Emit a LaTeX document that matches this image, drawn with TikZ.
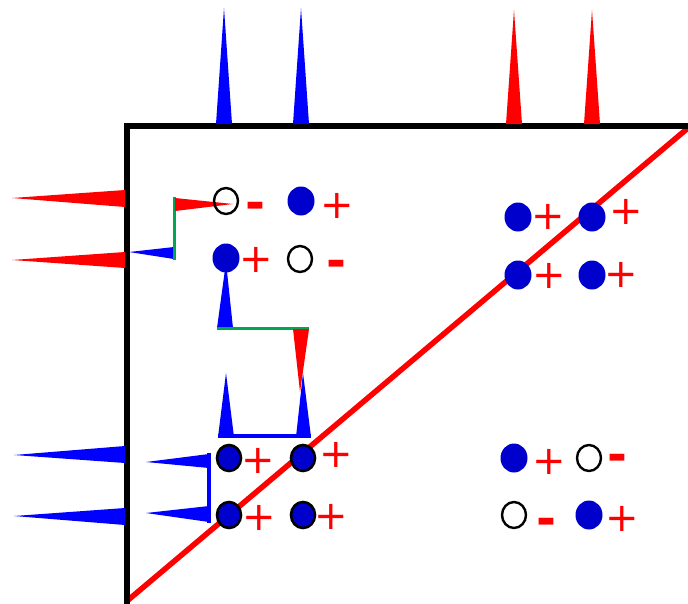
\documentclass[tikz,border=0pt]{standalone}
\usepackage{fontspec}
\usetikzlibrary{shapes.geometric}
\newfontfamily\signfont{DejaVu Sans}
\definecolor{spikeblue}{RGB}{0,0,255}
\definecolor{dotblue}{RGB}{0,0,204}
\definecolor{linkgreen}{RGB}{0,166,81}
\definecolor{signred}{RGB}{255,0,0}

\begin{document}
\begin{tikzpicture}[x=1pt,y=-1pt,
  hole/.style={ellipse,draw=black,line width=2.4pt,minimum width=24pt,minimum height=26pt,inner sep=0pt},
  bluedot/.style={ellipse,fill=dotblue,minimum width=27pt,minimum height=29pt,inner sep=0pt},
  rimdot/.style={ellipse,fill=dotblue,draw=black,line width=2.6pt,minimum width=24pt,minimum height=26pt,inner sep=0pt},
  plussign/.style={text=signred,inner sep=0pt,font=\signfont\fontsize{40}{40}\selectfont},
  minussign/.style={text=signred,inner sep=0pt,yshift=-7pt,font=\signfont\bfseries\fontsize{48}{48}\selectfont},
  bluespike/.style={fill=spikeblue},
  redspike/.style={fill=signred},
  link/.style={draw=linkgreen,line width=3pt},
]
\useasboundingbox (0,0) rectangle (688,603);
\clip (0,0) rectangle (688,603);

% diagonal
\draw[signred,line width=5.5pt] (127,601) -- (688,128);

% outer frame (right and bottom edges lie outside)
\draw[black,line width=5.5pt] (127,620) -- (127,126) -- (700,126);

% spikes on the top edge
\fill[bluespike] (224,8) -- (232,124) -- (216,124) -- cycle;
\fill[bluespike] (301,8) -- (309,124) -- (293,124) -- cycle;
\fill[redspike] (514,10) -- (522,124) -- (506,124) -- cycle;
\fill[redspike] (592,10) -- (600,124) -- (584,124) -- cycle;

% spikes on the left edge
\fill[redspike] (12,198) -- (125,190) -- (125,207) -- cycle;
\fill[redspike] (12,260) -- (125,252) -- (125,268) -- cycle;
\fill[bluespike] (14,455) -- (125,446) -- (125,463) -- cycle;
\fill[bluespike] (14,516) -- (125,508) -- (125,525) -- cycle;

% upper-left cluster links
\fill[bluespike] (129,252) -- (174,247) -- (174,259) -- cycle;
\draw[link] (174,197) -- (174,260);
\fill[redspike] (175,198) -- (233,204) -- (175,211) -- cycle;

\fill[bluespike] (226,262) -- (233,328) -- (217,328) -- cycle;
\draw[link] (217,328) -- (309,328);
\fill[redspike] (293,329) -- (309,329) -- (300,392) -- cycle;

\fill[bluespike] (226,373) -- (234,437) -- (218,437) -- cycle;
\fill[bluespike] (303,373) -- (311,437) -- (296,437) -- cycle;
\draw[spikeblue,line width=3.5pt] (218,436) -- (311,436);

% lower-left bracket
\draw[spikeblue,line width=4pt] (209,453) -- (209,523);
\fill[bluespike] (146,462) -- (209,454) -- (209,468) -- cycle;
\fill[bluespike] (146,513) -- (209,506) -- (209,522) -- cycle;

% upper-left cluster
\node[hole]      (h1) at (226,201) {};
\node[minussign] (m1) at (255,204) {-};
\node[bluedot]   (d1) at (301,201) {};
\node[plussign]  (p1) at (337,206) {+};
\node[bluedot]   (d2) at (226,258) {};
\node[plussign]  (p2) at (256,260) {+};
\node[hole]      (h2) at (300,259) {};
\node[minussign] (m2) at (336,262) {-};

% upper-right cluster
\node[bluedot]  (d3) at (518,217) {};
\node[plussign] (p3) at (548,217) {+};
\node[bluedot]  (d4) at (592,217) {};
\node[plussign] (p4) at (626,212) {+};
\node[bluedot]  (d5) at (518,275) {};
\node[plussign] (p5) at (549,276) {+};
\node[bluedot]  (d6) at (592,275) {};
\node[plussign] (p6) at (621,275) {+};

% lower-left cluster
\node[rimdot]   (r1) at (229,458) {};
\node[plussign] (p7) at (258,461) {+};
\node[rimdot]   (r2) at (303,458) {};
\node[plussign] (p8) at (336,455) {+};
\node[rimdot]   (r3) at (229,515) {};
\node[plussign] (p9) at (259,518) {+};
\node[rimdot]   (r4) at (303,515) {};
\node[plussign] (p10) at (331,517) {+};

% lower-right cluster
\node[bluedot]   (d7) at (514,458) {};
\node[plussign]  (p11) at (549,462) {+};
\node[hole]      (h3) at (589,458) {};
\node[minussign] (m3) at (617,456) {-};
\node[hole]      (h4) at (514,515) {};
\node[minussign] (m4) at (546,520) {-};
\node[bluedot]   (d8) at (589,515) {};
\node[plussign]  (p12) at (622,519) {+};
\end{tikzpicture}
\end{document}
